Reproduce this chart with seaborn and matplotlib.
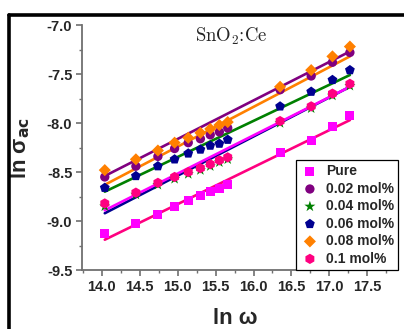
import matplotlib
matplotlib.use('Agg')
import matplotlib.pyplot as plt
import seaborn as sns
from matplotlib.lines import Line2D
from matplotlib.ticker import MultipleLocator, FormatStrFormatter

# ln(omega) values shared by all samples
ln_w = [14.04, 14.45, 14.74, 14.96, 15.14, 15.30, 15.43, 15.55, 15.66, 16.35, 16.76, 17.04, 17.27]

pure = [-9.13, -9.02, -8.93, -8.85, -8.79, -8.74, -8.70, -8.67, -8.63, -8.30, -8.18, -8.04, -7.92]
mol_002 = [-8.55, -8.44, -8.34, -8.26, -8.20, -8.16, -8.12, -8.09, -8.05, -7.66, -7.52, -7.38, -7.28]
mol_004 = [-8.85, -8.73, -8.63, -8.57, -8.52, -8.48, -8.44, -8.40, -8.37, -8.00, -7.85, -7.72, -7.62]
mol_006 = [-8.66, -8.54, -8.44, -8.37, -8.31, -8.27, -8.23, -8.21, -8.17, -7.83, -7.68, -7.56, -7.46]
mol_008 = [-8.48, -8.37, -8.28, -8.20, -8.15, -8.10, -8.06, -8.02, -7.99, -7.63, -7.46, -7.32, -7.22]
mol_01 = [-8.82, -8.71, -8.61, -8.55, -8.50, -8.46, -8.42, -8.38, -8.35, -7.98, -7.83, -7.70, -7.60]

labels = ['Pure', '0.02 mol%', '0.04 mol%', '0.06 mol%', '0.08 mol%', '0.1 mol%']
series = [pure, mol_002, mol_004, mol_006, mol_008, mol_01]

# linear fit lines (value at first and last ln w)
fit_start = [-9.19, -8.54, -8.92, -8.70, -8.63, -8.89]
fit_end = [-7.97, -7.27, -7.63, -7.51, -7.32, -7.63]

marker_colors = ['#FF00FF', '#800080', '#008000', '#000090', '#FF8000', '#FF0080']
line_colors = ['#FF0080', '#800080', '#000090', '#008000', '#FF8000', '#FF00FF']
markers = ['s', 'o', '*', 'p', 'D', 'h']
sizes = [42, 45, 70, 55, 38, 55]

sns.set_style('ticks')
plt.rcParams['font.family'] = ['Liberation Sans', 'DejaVu Sans']
plt.rcParams['mathtext.fontset'] = 'dejavusans'

fig = plt.figure(figsize=(4.04, 3.29), dpi=100)
ax = fig.add_axes([0.203, 0.179, 0.757, 0.745])

# fit lines first, markers on top
for i in range(len(series)):
    sns.lineplot(x=[ln_w[0], ln_w[-1]], y=[fit_start[i], fit_end[i]],
                 color=line_colors[i], lw=1.9, ax=ax, legend=False)

for i, vals in enumerate(series):
    sns.scatterplot(x=ln_w, y=vals, marker=markers[i], color=marker_colors[i],
                    s=sizes[i], edgecolor='none', label=labels[i], ax=ax, zorder=3)

ax.set_xlim(13.74, 17.77)
ax.set_ylim(-9.5, -7.0)
ax.xaxis.set_major_locator(MultipleLocator(0.5))
ax.xaxis.set_minor_locator(MultipleLocator(0.25))
ax.yaxis.set_major_locator(MultipleLocator(0.5))
ax.yaxis.set_minor_locator(MultipleLocator(0.25))
ax.xaxis.set_major_formatter(FormatStrFormatter('%.1f'))
ax.yaxis.set_major_formatter(FormatStrFormatter('%.1f'))

sns.despine(ax=ax)
for side in ['left', 'bottom']:
    ax.spines[side].set_color('#707070')
    ax.spines[side].set_linewidth(1.3)
ax.tick_params(which='major', length=4, width=1.2, color='#707070', pad=3)
ax.tick_params(which='minor', length=2.5, width=1.0, color='#707070')
for lab in ax.get_xticklabels() + ax.get_yticklabels():
    lab.set_fontweight('bold')
    lab.set_fontsize(10.5)

ax.set_xlabel('ln ω', fontsize=16, fontweight='bold', labelpad=10)
ax.set_ylabel(r'ln σ$_{\mathbf{ac}}$', fontsize=16, fontweight='bold')
ax.yaxis.set_label_coords(-0.165, 0.5)

ax.text(0.487, 0.955, r'SnO$_2$:Ce', transform=ax.transAxes,
        ha='center', va='center', fontsize=13.5, family='cmr10',
        math_fontfamily='cm')

leg = ax.legend(loc='upper left', bbox_to_anchor=(296 / 404, 1 - 160 / 329),
                bbox_transform=fig.transFigure, frameon=True, fancybox=False,
                prop={'weight': 'bold', 'size': 10}, handletextpad=0.45,
                handlelength=1.4, labelspacing=0.25, borderpad=0.3,
                borderaxespad=0)
leg.get_frame().set_edgecolor('black')
leg.get_frame().set_linewidth(0.9)
leg.get_frame().set_alpha(1)

# thick outer frame (top and left visible)
fig.add_artist(Line2D([9 / 404, 1], [1 - 15 / 329, 1 - 15 / 329],
                      color='black', lw=2.6, transform=fig.transFigure))
fig.add_artist(Line2D([9 / 404, 9 / 404], [0, 1 - 15 / 329],
                      color='black', lw=2.6, transform=fig.transFigure))

fig.savefig('out.png', dpi=100)
